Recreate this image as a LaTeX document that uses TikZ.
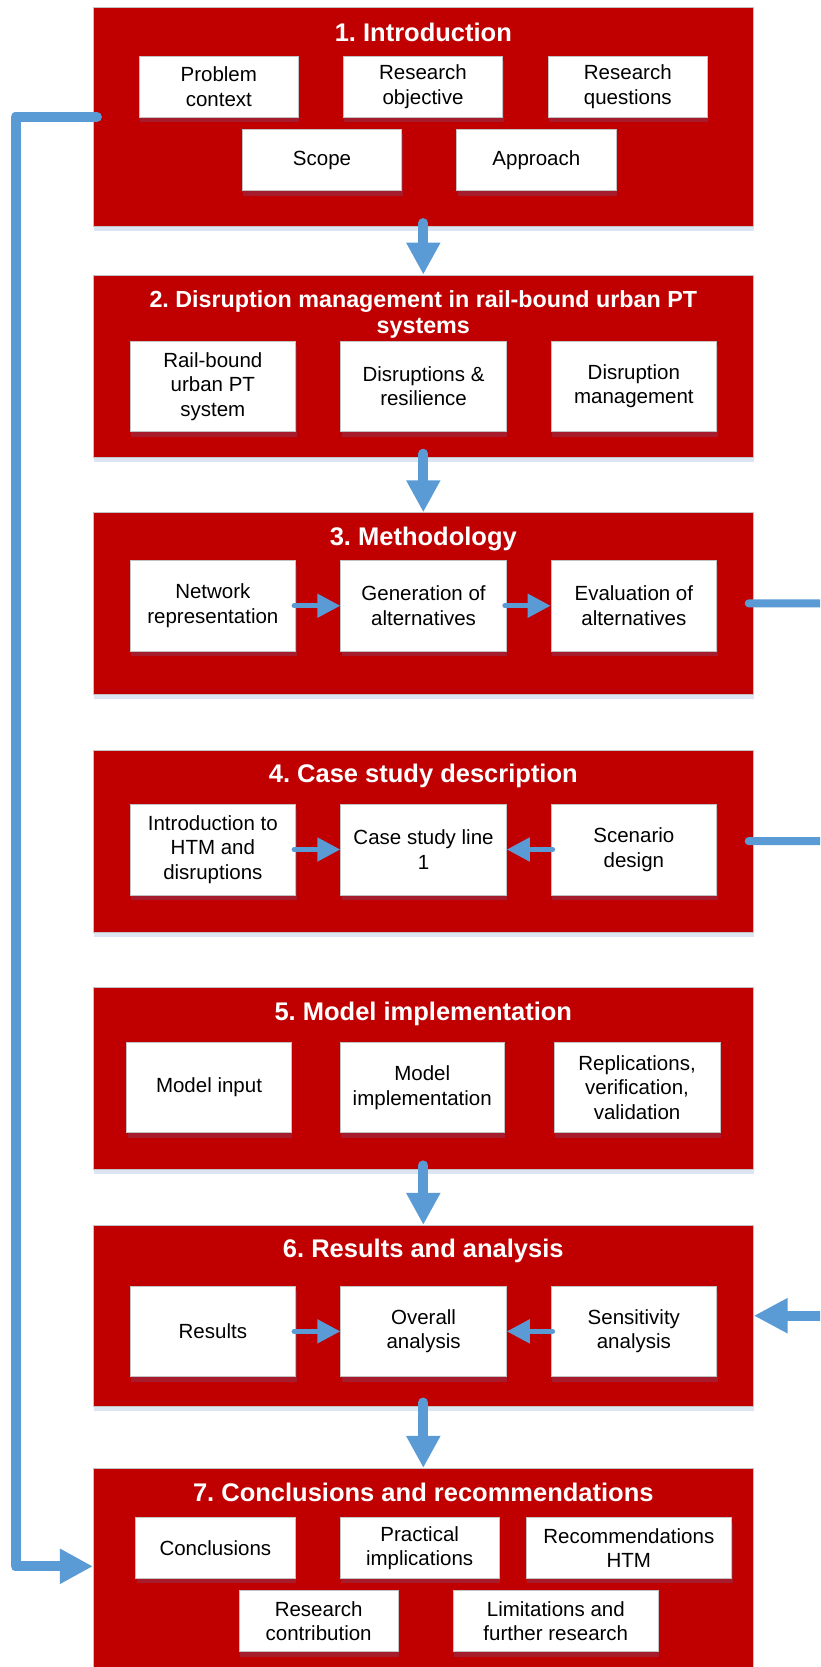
\documentclass[tikz,border=0pt]{standalone}
\usepackage{fontspec}
\setmainfont{Liberation Sans}
\usetikzlibrary{arrows.meta,shadows}
\definecolor{boxred}{RGB}{192,0,0}
\definecolor{shred}{RGB}{166,28,44}
\definecolor{shblue}{RGB}{220,230,242}
\definecolor{arrblue}{RGB}{91,155,213}
\definecolor{edgegray}{RGB}{195,195,195}
\newcommand{\sbx}[7]{%
  \pgfmathsetmacro\cxx{(#3+#5)/2}\pgfmathsetmacro\cyy{(#4+#6)/2}%
  \pgfmathsetmacro\www{#5-#3}\pgfmathsetmacro\hhh{#6-#4}%
  \node[#1, minimum width=\www pt, minimum height=\hhh pt] (#2) at (\cxx,\cyy) {#7};}
\frenchspacing
\begin{document}
\begin{tikzpicture}[x=1pt,y=-1pt,
  bigbox/.style={draw=edgegray, line width=0.8pt, fill=boxred, inner sep=0pt,
    general shadow={fill=shblue, shadow xshift=1pt, shadow yshift=-4.5pt}},
  titletext/.style={text=white, font=\bfseries\fontsize{25.5}{25.5}\selectfont, align=center, inner sep=0pt, anchor=base},
  subbox/.style={draw=edgegray, line width=0.8pt, fill=white, align=center, inner sep=0pt,
    font=\fontsize{20.5}{24.5}\selectfont,
    general shadow={fill=shred, shadow xshift=1pt, shadow yshift=-5pt}},
  varrow/.style={draw=arrblue, line width=10pt, line cap=round, -{Triangle[width=32pt,length=32pt]}},
  harrow/.style={draw=arrblue, line width=5pt, line cap=round, -{Triangle[width=23pt,length=23pt]}},
  sideline/.style={draw=arrblue, line width=10pt, line cap=round, line join=round},
  rightline/.style={draw=arrblue, line width=8pt, line cap=round}]
\useasboundingbox (0,0) rectangle (820,1667);
\clip (0,0) rectangle (820,1667);
\fill[white] (0,0) rectangle (820,1667);

% big boxes
\sbx{bigbox}{b1}{93.3}{7.3}{753.3}{226.7}{}
\sbx{bigbox}{b2}{93.3}{275}{753.3}{457.3}{}
\sbx{bigbox}{b3}{93.3}{512.7}{753.3}{694}{}
\sbx{bigbox}{b4}{93.3}{750}{753.3}{932.3}{}
\sbx{bigbox}{b5}{93.3}{987}{753.3}{1169}{}
\sbx{bigbox}{b6}{93.3}{1225.3}{753.3}{1406.1}{}
\sbx{bigbox}{b7}{93.3}{1468.3}{753.3}{1720}{}

% titles
\node[titletext] (t1) at (423.3,41.7) {1. Introduction};
\node[titletext, font=\bfseries\fontsize{23.3}{25.5}\selectfont] (t2) at (423.3,333) {2. Disruption management in rail-bound urban PT\\systems};
\node[titletext] (t3) at (423.3,545.7) {3. Methodology};
\node[titletext] (t4) at (423.3,782.7) {4. Case study description};
\node[titletext] (t5) at (423.3,1020) {5. Model implementation};
\node[titletext] (t6) at (423.3,1257.7) {6. Results and analysis};
\node[titletext] (t7) at (423.3,1501.7) {7. Conclusions and recommendations};

% box 1
\sbx{subbox}{s11}{139.3}{56}{298.3}{117.3}{Problem\\context}
\sbx{subbox}{s12}{343.3}{56}{502.7}{117.3}{Research\\objective}
\sbx{subbox}{s13}{548.3}{56}{707.3}{117.3}{Research\\questions}
\sbx{subbox}{s14}{242.3}{129.3}{401.7}{190.7}{Scope}
\sbx{subbox}{s15}{456.7}{129.3}{616}{190.7}{Approach}
% box 2
\sbx{subbox}{s21}{130}{341}{295.7}{431.7}{Rail-bound\\urban PT\\system}
\sbx{subbox}{s22}{340.7}{341}{506.4}{431.7}{Disruptions \&\\resilience}
\sbx{subbox}{s23}{551}{341}{716.7}{431.7}{Disruption\\management}
% box 3
\sbx{subbox}{s31}{130}{560.5}{295.7}{651}{Network\\representation}
\sbx{subbox}{s32}{340.7}{560.5}{506.4}{651}{Generation of\\alternatives}
\sbx{subbox}{s33}{551}{560.5}{716.7}{651}{Evaluation of\\alternatives}
% box 4
\sbx{subbox}{s41}{130}{804}{295.7}{895}{Introduction to\\HTM and\\disruptions}
\sbx{subbox}{s42}{340.7}{804}{506.4}{895}{Case study line\\1}
\sbx{subbox}{s43}{551}{804}{716.7}{895}{Scenario\\design}
% box 5
\sbx{subbox}{s51}{126.6}{1042.3}{291.4}{1132.7}{Model input}
\sbx{subbox}{s52}{340.4}{1042.3}{504.1}{1132.7}{Model\\implementation}
\sbx{subbox}{s53}{554.1}{1042.3}{720}{1132.7}{Replications,\\verification,\\validation}
% box 6
\sbx{subbox}{s61}{130}{1286}{295.7}{1376.7}{Results}
\sbx{subbox}{s62}{340.7}{1286}{506.4}{1376.7}{Overall\\analysis}
\sbx{subbox}{s63}{551}{1286}{716.7}{1376.7}{Sensitivity\\analysis}
% box 7
\sbx{subbox}{s71}{135.7}{1517.7}{295}{1578.3}{Conclusions}
\sbx{subbox}{s72}{340}{1517.7}{499.3}{1578.3}{Practical\\implications}
\sbx{subbox}{s73}{526}{1517.7}{731.7}{1578.3}{Recommendations\\HTM}
\sbx{subbox}{s74}{239}{1590.7}{398.3}{1651.7}{Research\\contribution}
\sbx{subbox}{s75}{453.3}{1590.7}{658.3}{1651.7}{Limitations and\\further research}

% arrows between boxes
\draw[varrow] ([yshift=4pt]b1.south) -- (b2.north);
\draw[varrow] ([yshift=4pt]b2.south) -- (b3.north);
\draw[varrow] ([yshift=4pt]b5.south) -- (b6.north);
\draw[varrow] ([yshift=4pt]b6.south) -- (b7.north);

% inner arrows
\draw[harrow] ([xshift=-2pt]s31.east) -- (s32.west);
\draw[harrow] ([xshift=-2pt]s32.east) -- (s33.west);
\draw[harrow] ([xshift=-2pt]s41.east) -- (s42.west);
\draw[harrow] ([xshift=2pt]s43.west) -- (s42.east);
\draw[harrow] ([xshift=-2pt]s61.east) -- (s62.west);
\draw[harrow] ([xshift=2pt]s63.west) -- (s62.east);

% left feedback line
\draw[sideline, -{Triangle[width=33pt,length=33pt]}] ([xshift=4pt]b1.west)
  -| ([xshift=-77.3pt,yshift=-98.4pt]b7.north west) -- ([yshift=-98.4pt]b7.north west);

% right lines
\coordinate (r3) at (830,603.3);
\coordinate (r4) at (830,841.2);
\coordinate (r6) at (830,1315.7);
\draw[rightline] ([xshift=-5pt]b3.east) -- (r3);
\draw[rightline] ([xshift=-5pt]b4.east) -- (r4);
\draw[sideline, -{Triangle[width=33pt,length=34pt]}] (r6) -- (b6.east);
\end{tikzpicture}
\end{document}
